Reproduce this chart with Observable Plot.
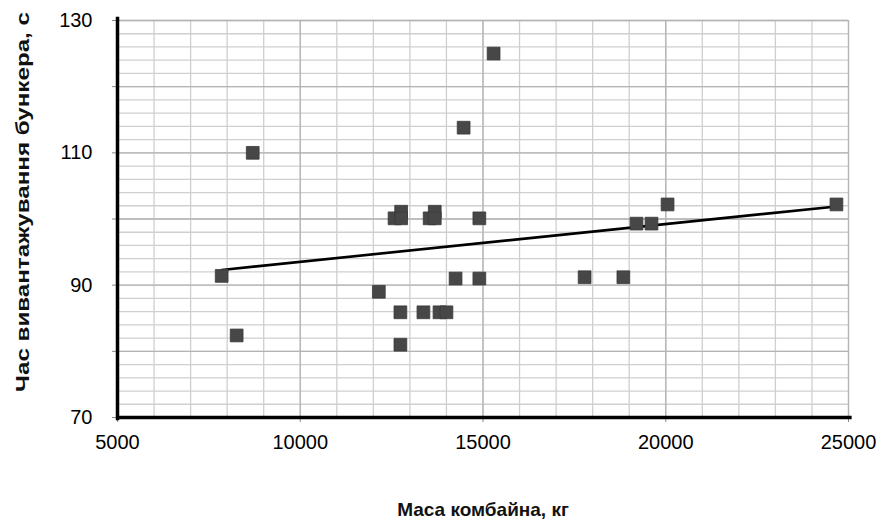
<!DOCTYPE html>
<html>
<head>
<meta charset="utf-8">
<script src="https://cdn.jsdelivr.net/npm/d3@7"></script>
<script src="https://cdn.jsdelivr.net/npm/@observablehq/plot@0.6"></script>
<style>
  html, body { margin: 0; padding: 0; background: #fff; }
  #chart svg { display: block; }
</style>
</head>
<body>
<div id="chart"></div>
<script>
// Combine mass (kg) and bunker unloading time (s)
const massKg = [7850, 8260, 8700, 12150, 12580, 12760, 12760, 12740, 12740,
                13370, 13540, 13680, 13680, 13810, 14000, 14250, 14470, 14900,
                14900, 15290, 17780, 18840, 19200, 19610, 20050, 24670];
const timeS  = [91.4, 82.4, 110, 89, 100.1, 101.1, 100.1, 85.9, 81,
                85.9, 100.1, 101.1, 100.1, 85.9, 85.9, 91, 113.8, 100.1,
                91, 125, 91.2, 91.2, 99.3, 99.3, 102.2, 102.2];
// Trend line end points
const trendMass = [7850, 24670];
const trendTime = [92.3, 101.9];
// Axis ticks
const xTicks = [5000, 10000, 15000, 20000, 25000];
const yTicks = [70, 80, 90, 100, 110, 120, 130];
const yLabels = [70, 90, 110, 130];
const xLabel = "Маса комбайна, кг";
const yLabel = "Час вивантажування бункера, с";

const points = massKg.map((m, i) => ({mass: m, time: timeS[i]}));
const trend = trendMass.map((m, i) => ({mass: m, time: trendTime[i]}));

const xMinor = d3.range(5000, 25001, 1000);
const yMinor = d3.range(70, 130.1, 2);

const chart = Plot.plot({
  width: 888,
  height: 522,
  marginLeft: 117,
  marginRight: 40,
  marginTop: 20,
  marginBottom: 105,
  style: {fontFamily: "'Liberation Sans', Arial, sans-serif", fontSize: "20px", color: "#000", background: "#fff"},
  x: {domain: [5000, 25000]},
  y: {domain: [70, 130]},
  marks: [
    Plot.gridX(xMinor, {stroke: "#cfcfcf", strokeOpacity: 1, strokeWidth: 1.3}),
    Plot.gridY(yMinor, {stroke: "#cfcfcf", strokeOpacity: 1, strokeWidth: 1.3}),
    Plot.gridX(xTicks, {stroke: "#b4b4b4", strokeOpacity: 1, strokeWidth: 1.3}),
    Plot.gridY(yTicks, {stroke: "#b4b4b4", strokeOpacity: 1, strokeWidth: 1.3}),
    Plot.axisX(xTicks, {tickSize: 5, tickPadding: 12, stroke: "#888", fill: "#000", label: null, fontSize: 20,
      tickFormat: d => String(d)}),
    Plot.axisY(yTicks, {tickSize: 5, tickPadding: 20, stroke: "#888", fill: "#000", label: null, fontSize: 20,
      tickFormat: d => yLabels.includes(d) ? String(d) : ""}),
    Plot.line(trend, {x: "mass", y: "time", stroke: "#000", strokeWidth: 2.6}),
    Plot.dot(points, {x: "mass", y: "time", symbol: "square", r: 7.2, fill: "#474747", stroke: "#3a3a3a", strokeWidth: 0.8}),
    Plot.ruleX([5000], {y1: 69.5, y2: 130.5, stroke: "#000", strokeWidth: 3.5}),
    Plot.ruleY([70], {x1: 5000, x2: 25100, stroke: "#000", strokeWidth: 3.5}),
    Plot.text([xLabel], {frameAnchor: "bottom", dy: 98, fontSize: 19, fontWeight: "bold", fill: "#111"})
  ]
});
// y-axis title, rotated, fitted to the length it has in the reference
d3.select(chart).append("text")
  .attr("transform", "translate(22,202) rotate(-90)")
  .attr("text-anchor", "middle")
  .attr("dominant-baseline", "central")
  .attr("font-size", 19)
  .attr("font-weight", "bold")
  .attr("fill", "#111")
  .attr("textLength", 380)
  .attr("lengthAdjust", "spacingAndGlyphs")
  .text(yLabel);
document.getElementById("chart").append(chart);
</script>
</body>
</html>
